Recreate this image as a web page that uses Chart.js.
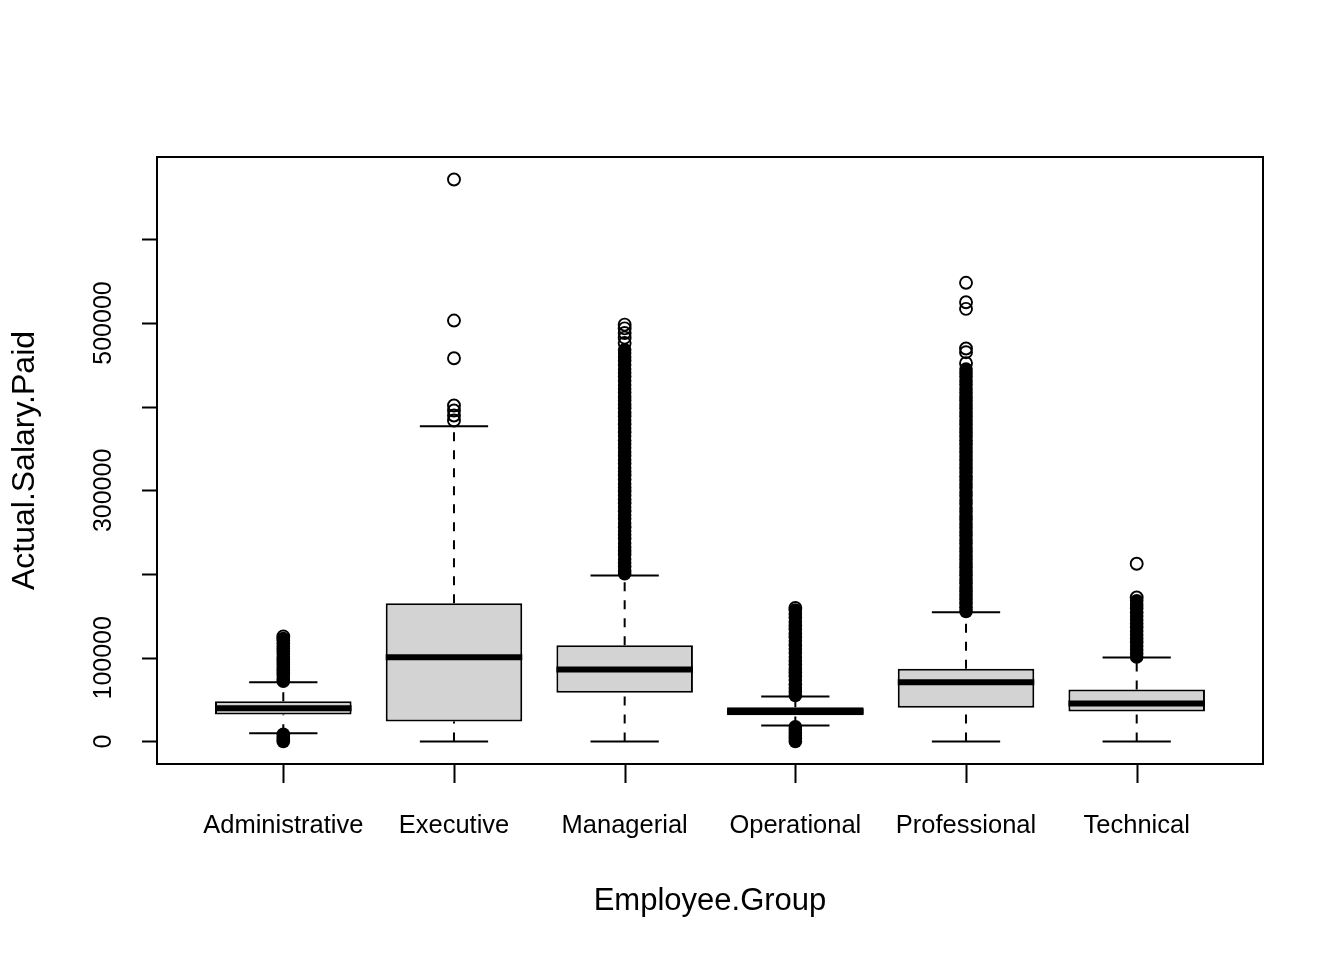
<!DOCTYPE html>
<html>
<head>
<meta charset="utf-8">
<script src="https://cdn.jsdelivr.net/npm/chart.js@4.4.1/dist/chart.umd.min.js"></script>
<style>
  html, body { margin: 0; background: #fff; }
  canvas { display: block; }
</style>
</head>
<body>
<canvas id="chart" width="1344" height="960"></canvas>
<script>
// Box plot of Actual.Salary.Paid by Employee.Group, drawn with floating bars
// (boxes), line datasets (medians, whiskers, staples) and scatter (outliers).
const groups = ["Administrative", "Executive", "Managerial", "Operational", "Professional", "Technical"];

const q1 = [32300, 23900, 58200, 31400, 40300, 35800];
const medians = [39800, 100700, 86000, 35800, 70800, 45400];
const q3 = [48100, 165200, 115000, 41000, 86800, 62100];
const whiskerLow = [9900, 0, 0, 19100, 0, 0];
const whiskerHigh = [70800, 376700, 198300, 53800, 154500, 100300];

// isolated outliers (drawn as open circles)
const outliersSparse = [
  [125500],
  [671400, 502900, 457900, 401400, 395400, 389400, 383500],
  [498000, 493500, 488000, 482500, 476000],
  [159500],
  [548000, 524800, 516900, 469500, 465100, 452000],
  [212300, 172000],
];

// runs of overlapping outliers (too many to tell apart, drawn solid)
const outliersDense = [
  [0, 2500, 5500, 8500,
   72000, 75000, 78500, 81500, 85000, 88000, 91500, 94500, 98000, 101000,
   104500, 107500, 111000, 114000, 117500, 120500, 123000],
  [],
  [200500, 204000, 209000, 213500, 218000, 223500, 228000, 232500, 237000, 242500,
   247000, 251500, 256000, 261000, 266000, 270500, 275000, 280000, 284500, 289500,
   294000, 299000, 303500, 308000, 313000, 318000, 322500, 327000, 332000, 336500,
   341500, 346000, 351000, 355500, 360000, 365000, 369500, 374500, 379000, 384000,
   388500, 393000, 398000, 402500, 407500, 412000, 417000, 421500, 426000, 431000,
   436000, 440500, 445000, 450000, 455000, 459500, 464000, 468000],
  [0, 3500, 7000, 10500, 14000, 17500,
   55000, 59500, 64000, 68500, 73500, 78000, 82500, 87000, 92000, 96500, 101000,
   106000, 110500, 115000, 120000, 124500, 129000, 134000, 138500, 143000, 148000,
   152500, 157000],
  [155500, 160500, 165000, 170000, 174500, 179500, 184000, 189000, 193500, 198500,
   203000, 208000, 212500, 217500, 222000, 227000, 231500, 236500, 241000, 246000,
   250500, 255500, 260000, 265000, 269500, 274500, 279000, 284000, 288500, 293500,
   298000, 303000, 307500, 312500, 317000, 322000, 326500, 331500, 336000, 341000,
   345500, 350500, 355000, 360000, 364500, 369500, 374000, 379000, 383500, 388500,
   393000, 398000, 402500, 407500, 412000, 417000, 421500, 426500, 431000, 436000,
   440500, 445000],
  [101000, 105000, 109500, 114000, 118500, 123000, 127500, 132000, 136500, 141000,
   145500, 150000, 154500, 159000, 163500, 168000],
];

const yTicks = [0, 100000, 200000, 300000, 400000, 500000, 600000];
const yTickLabels = [0, 100000, 300000, 500000];

const xTitle = "Employee.Group";
const yTitle = "Actual.Salary.Paid";

const BOX_HALF = 0.4;
const STAPLE_HALF = 0.2;
const FONT = '"Liberation Sans", Arial, sans-serif';

const pos = groups.map((_, i) => i + 1);

const boxData = pos.map((x, i) => ({ x, y: [q1[i], q3[i]] }));
const medianData = pos.flatMap((x, i) => [
  { x: x - BOX_HALF, y: medians[i] }, { x: x + BOX_HALF, y: medians[i] }, { x, y: null },
]);
const whiskerData = pos.flatMap((x, i) => [
  { x, y: q3[i] }, { x, y: whiskerHigh[i] }, { x, y: null },
  { x, y: whiskerLow[i] }, { x, y: q1[i] }, { x, y: null },
]);
const stapleData = pos.flatMap((x, i) => [
  { x: x - STAPLE_HALF, y: whiskerHigh[i] }, { x: x + STAPLE_HALF, y: whiskerHigh[i] }, { x, y: null },
  { x: x - STAPLE_HALF, y: whiskerLow[i] }, { x: x + STAPLE_HALF, y: whiskerLow[i] }, { x, y: null },
]);
const sparseData = pos.flatMap((x, i) => outliersSparse[i].map((y) => ({ x, y })));
const denseData = pos.flatMap((x, i) => outliersDense[i].map((y) => ({ x, y })));

// frame, ticks, tick labels and axis titles in base-R style
const rAxes = {
  id: "rAxes",
  afterDraw(chart) {
    const { ctx, chartArea: a, scales } = chart;
    ctx.save();
    ctx.strokeStyle = "#000";
    ctx.fillStyle = "#000";
    ctx.lineWidth = 2;
    ctx.strokeRect(a.left, a.top, a.right - a.left, a.bottom - a.top);

    ctx.beginPath();
    yTicks.forEach((v) => {
      const py = Math.round(scales.y.getPixelForValue(v)) + 0.5;
      ctx.moveTo(a.left - 15, py);
      ctx.lineTo(a.left, py);
    });
    pos.forEach((x) => {
      const px = Math.round(scales.x.getPixelForValue(x)) + 0.5;
      ctx.moveTo(px, a.bottom);
      ctx.lineTo(px, a.bottom + 19);
    });
    ctx.stroke();

    ctx.textAlign = "center";
    ctx.textBaseline = "middle";
    ctx.font = "25px " + FONT;
    yTickLabels.forEach((v) => {
      ctx.save();
      ctx.translate(a.left - 53, scales.y.getPixelForValue(v));
      ctx.rotate(-Math.PI / 2);
      ctx.fillText(String(v), 0, 0);
      ctx.restore();
    });
    ctx.font = "25.5px " + FONT;
    groups.forEach((g, i) => {
      ctx.fillText(g, scales.x.getPixelForValue(pos[i]), a.bottom + 62);
    });

    ctx.font = "31px " + FONT;
    ctx.fillText(xTitle, (a.left + a.right) / 2, a.bottom + 137);
    ctx.font = "32px " + FONT;
    ctx.save();
    ctx.translate(25, (a.top + a.bottom) / 2);
    ctx.rotate(-Math.PI / 2);
    ctx.fillText(yTitle, 0, 0);
    ctx.restore();
    ctx.restore();
  },
};

new Chart(document.getElementById("chart"), {
  type: "bar",
  data: {
    datasets: [
      {
        type: "scatter", data: sparseData, order: 0,
        pointRadius: 6, pointBorderWidth: 1.9,
        pointBorderColor: "#000", pointBackgroundColor: "rgba(0,0,0,0)",
      },
      {
        type: "scatter", data: denseData, order: 1,
        pointRadius: 6.8, pointBorderWidth: 0,
        pointBorderColor: "#000", pointBackgroundColor: "#000",
      },
      {
        type: "line", data: medianData, order: 2,
        borderColor: "#000", borderWidth: 6, borderCapStyle: "butt",
        pointRadius: 0, spanGaps: false,
      },
      {
        type: "bar", data: boxData, order: 3,
        backgroundColor: "#D3D3D3", borderColor: "#000", borderWidth: 2,
        borderSkipped: false, barPercentage: 0.8, categoryPercentage: 1,
      },
      {
        type: "line", data: stapleData, order: 4,
        borderColor: "#000", borderWidth: 2, pointRadius: 0, spanGaps: false,
      },
      {
        type: "line", data: whiskerData, order: 5,
        borderColor: "#000", borderWidth: 2, borderDash: [9, 9], borderCapStyle: "butt",
        pointRadius: 0, spanGaps: false,
      },
    ],
  },
  options: {
    responsive: false,
    animation: false,
    events: [],
    layout: { padding: { left: 157, right: 81, top: 157, bottom: 196 } },
    scales: {
      x: {
        type: "linear", min: 0.26, max: 6.74, offset: false, display: false,
        // one tick per group so the bar width comes from the group spacing
        afterBuildTicks: (scale) => { scale.ticks = pos.map((value) => ({ value })); },
      },
      y: { type: "linear", min: -26900, max: 698300, display: false },
    },
    plugins: { legend: { display: false }, tooltip: { enabled: false } },
  },
  plugins: [rAxes],
});
</script>
</body>
</html>
